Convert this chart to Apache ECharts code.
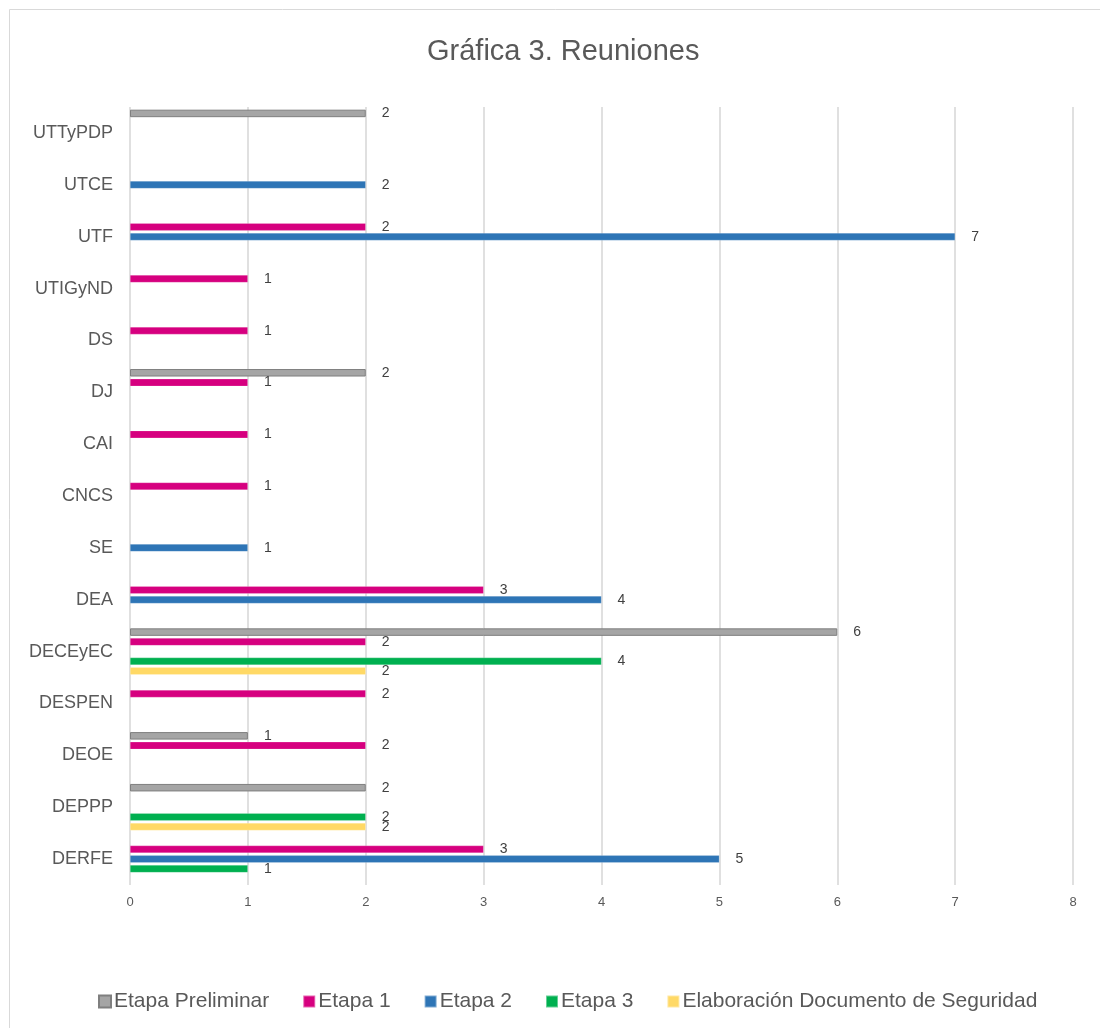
<!DOCTYPE html>
<html><head><meta charset="utf-8">
<script src="https://cdn.jsdelivr.net/npm/echarts@6/dist/echarts.min.js"></script>
<style>html,body{margin:0;padding:0;background:#fff}#c{width:1100px;height:1028px}</style>
</head><body><div id="c"></div>
<script>
const categories = ['DERFE','DEPPP','DEOE','DESPEN','DECEyEC','DEA','SE','CNCS','CAI','DJ','DS','UTIGyND','UTF','UTCE','UTTyPDP'];
const seriesNames = ['Etapa Preliminar','Etapa 1','Etapa 2','Etapa 3','Elaboración Documento de Seguridad'];
const etapaPreliminar = [null,2,1,null,6,null,null,null,null,2,null,null,null,null,2];
const etapa1 = [3,null,2,2,2,3,null,1,1,1,1,1,2,null,null];
const etapa2 = [5,null,null,null,null,4,1,null,null,null,null,null,7,2,null];
const etapa3 = [1,2,null,null,4,null,null,null,null,null,null,null,null,null,null];
const elaboracion = [null,2,null,null,2,null,null,null,null,null,null,null,null,null,null];
const xTicks = [0,1,2,3,4,5,6,7,8];

const colors = ['#a5a5a5','#d6007f','#2e75b6','#00b050','#ffd966'];
const datasets = [etapaPreliminar, etapa1, etapa2, etapa3, elaboracion];
const FONT = 'Liberation Sans, Arial';

const chart = echarts.init(document.getElementById('c'));
chart.setOption({
  animation: false,
  backgroundColor: '#fff',
  title: {
    text: 'Gráfica 3. Reuniones', left: 422, top: 32,
    textStyle: {fontFamily: FONT, fontSize: 29, fontWeight: 'normal', color: '#595959'}
  },
  graphic: [{type: 'rect', shape: {x: 9.5, y: 9.5, width: 1100, height: 1030}, style: {fill: 'none', stroke: '#d9d9d9', lineWidth: 1}, silent: true}],
  legend: {
    data: seriesNames, top: 991, left: 98, itemWidth: 12, itemHeight: 12, itemGap: 33,
    icon: 'rect', padding: 0,
    textStyle: {fontFamily: FONT, fontSize: 21, color: '#595959', padding: [0,0,0,-2]}
  },
  grid: {left: 130, right: 27, top: 107, bottom: 143, containLabel: false},
  xAxis: {
    type: 'value', min: xTicks[0], max: xTicks[xTicks.length-1], interval: 1,
    axisLine: {show: false}, axisTick: {show: false},
    axisLabel: {fontFamily: FONT, fontSize: 13, color: '#595959', margin: 11},
    splitLine: {show: true, lineStyle: {color: '#d9d9d9', width: 1.6}}
  },
  yAxis: {
    type: 'category', data: categories,
    axisLine: {show: false}, axisTick: {show: false},
    axisLabel: {fontFamily: FONT, fontSize: 18, color: '#595959', margin: 17},
    splitLine: {show: false}
  },
  series: seriesNames.map((n, i) => ({
    name: n, type: 'bar', data: datasets[i],
    barWidth: 7.5, barGap: '30%',
    itemStyle: {color: colors[i], borderColor: i === 0 ? '#7f7f7f' : 'rgba(255,255,255,0.4)', borderWidth: i === 0 ? 1 : 0.5},
    label: {show: true, position: 'right', distance: 16, fontFamily: FONT, fontSize: 14, color: '#404040'}
  }))
});
</script></body></html>
